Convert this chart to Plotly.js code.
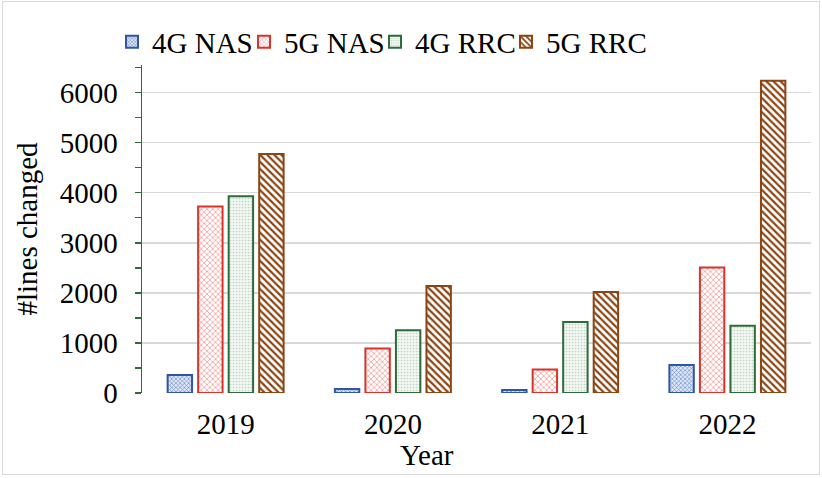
<!DOCTYPE html>
<html>
<head>
<meta charset="utf-8">
<script src="https://cdn.plot.ly/plotly-3.0.1.min.js"></script>
<style>
  html, body { margin: 0; padding: 0; background: #fff; }
  #wrap { position: relative; width: 822px; height: 478px; }
  #chart { width: 822px; height: 478px; }
  #frame { position: absolute; left: 2px; top: 1px; width: 816px; height: 472px;
           border: 1.5px solid #d9d9d9; pointer-events: none; }
</style>
</head>
<body>
<div id="wrap">
  <div id="chart"></div>
  <div id="frame"></div>
</div>
<script>
// values
const years = ['2019', '2020', '2021', '2022'];
const nas4g = [360, 80, 60, 558];
const nas5g = [3725, 890, 470, 2504];
const rrc4g = [3930, 1255, 1420, 1341];
const rrc5g = [4775, 2138, 2018, 6235];

const serif = '"Liberation Serif", "Times New Roman", serif';
const fs = 29;

function barTrace(name, values, lineColor, pattern, legendId) {
    return {
        type: 'bar',
        name: name,
        x: years,
        y: values,
        legend: legendId,
        marker: {
            color: pattern.bgcolor,
            line: { color: lineColor, width: 2 },
            pattern: pattern
        }
    };
}

const data = [
    barTrace('4G NAS', nas4g, '#2f55a4',
        { shape: 'x', size: 3, solidity: 0.4, fgcolor: '#6d8fd0', bgcolor: '#dfe7f6' }, 'legend'),
    barTrace('5G NAS', nas5g, '#d9342b',
        { shape: 'x', size: 4, solidity: 0.35, fgcolor: '#f19a96', bgcolor: '#ffffff' }, 'legend2'),
    barTrace('4G RRC', rrc4g, '#2e6b3a',
        { shape: '.', size: 3, solidity: 0.25, fgcolor: '#c2d4c2', bgcolor: '#f3f7f3' }, 'legend3'),
    barTrace('5G RRC', rrc5g, '#8b4513',
        { shape: '\\', size: 5, solidity: 0.45, fgcolor: '#8b4513', bgcolor: '#ffffff' }, 'legend4')
];

// one small legend per series so the entries sit where the reference has them
function legendAt(px) {
    return {
        orientation: 'h',
        xref: 'container',
        yref: 'container',
        x: px / 822,
        xanchor: 'left',
        y: 1 - 42 / 478,
        yanchor: 'middle',
        bgcolor: 'rgba(0,0,0,0)',
        font: { family: serif, size: fs },
        itemwidth: 30
    };
}

const layout = {
    width: 822,
    height: 478,
    margin: { l: 142, r: 11, t: 65, b: 85, autoexpand: false },
    paper_bgcolor: '#ffffff',
    plot_bgcolor: '#ffffff',
    font: { family: serif, size: fs, color: '#000000' },
    barmode: 'group',
    bargap: 0.27,
    bargroupgap: 0.2,
    showlegend: true,
    legend: legendAt(112),
    legend2: legendAt(244),
    legend3: legendAt(375),
    legend4: legendAt(506),
    xaxis: {
        type: 'category',
        showline: false,
        showgrid: false,
        zeroline: false,
        ticks: 'outside',
        ticklen: 5,
        tickcolor: 'rgba(0,0,0,0)',
        tickfont: { family: serif, size: fs }
    },
    yaxis: {
        range: [0, 6550],
        dtick: 1000,
        showgrid: true,
        gridcolor: '#d9d9d9',
        gridwidth: 1.5,
        zeroline: false,
        showline: true,
        linecolor: '#2e6b3a',
        linewidth: 1.5,
        ticks: 'outside',
        ticklen: 6,
        tickcolor: '#2e6b3a',
        tickwidth: 1.5,
        ticklabelstandoff: 11,
        minor: { dtick: 500, ticks: 'outside', ticklen: 6, tickcolor: '#2e6b3a', tickwidth: 1.5, showgrid: false },
        tickfont: { family: serif, size: fs },
        title: { text: '#lines changed', font: { family: serif, size: fs }, standoff: 13 }
    },
    annotations: [{
        text: 'Year',
        xref: 'paper', yref: 'paper',
        x: (427 - 142) / 669, y: (393 - 455) / 328,
        xanchor: 'center', yanchor: 'middle',
        showarrow: false,
        font: { family: serif, size: fs }
    }]
};

Plotly.newPlot('chart', data, layout, { displayModeBar: false, staticPlot: true });
</script>
</body>
</html>
